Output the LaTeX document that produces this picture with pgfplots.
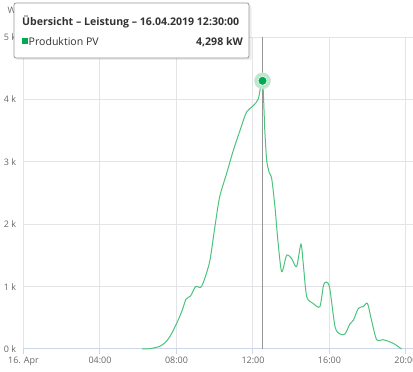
\documentclass[border=0pt]{standalone}
\usepackage{pgfplots}
\pgfplotsset{compat=1.18}
\usepackage{fontspec}
\setmainfont{Open Sans}
\definecolor{linegreen}{RGB}{75,195,125}
\definecolor{dotgreen}{RGB}{0,170,80}
\definecolor{halogreen}{RGB}{190,232,205}
\definecolor{gridgray}{RGB}{228,228,232}
\definecolor{axisblue}{RGB}{204,214,235}
\definecolor{labelgray}{RGB}{102,102,102}
\definecolor{cursorgray}{RGB}{150,150,150}
\begin{document}
\begin{tikzpicture}[x=1bp,y=1bp]
\useasboundingbox (0,0) rectangle (413,372);
\begin{axis}[
  at={(23.5bp,23bp)}, anchor=south west,
  scale only axis, width=389.5bp, height=312bp,
  xmin=0, xmax=20.37, ymin=0, ymax=5000,
  separate axis lines,
  axis x line*=bottom, axis y line*=left,
  x axis line style={draw=axisblue, line width=1bp},
  y axis line style={draw=none},
  xtick={0,4,8,12,16,20},
  xticklabels={16. Apr,04:00,08:00,12:00,16:00,20:00},
  ytick={0,1000,2000,3000,4000,5000},
  yticklabels={0 k,1 k,2 k,3 k,4 k,5 k},
  scaled y ticks=false,
  tick align=outside,
  x tick style={draw=axisblue, line width=1bp},
  major tick length=5bp,
  y tick style={draw=none},
  grid=major,
  major grid style={draw=gridgray, line width=1bp},
  tick label style={font=\fontsize{9}{10}\selectfont, text=labelgray},
  xticklabel style={yshift=1bp},
  yticklabel style={xshift=1bp},
  clip=false,
]
\draw[cursorgray, line width=1bp] (axis cs:12.5,0) -- (axis cs:12.5,5000);
\addplot[linegreen, line width=1bp, smooth, tension=0.45] coordinates {
(6.2,0) (6.6,5) (7.1,40) (7.4,100) (7.66,200) (8.01,410) (8.3,620) (8.5,800)
(8.74,850) (9.0,1000) (9.28,990) (9.5,1150) (9.75,1420) (10.01,1960)
(10.26,2440) (10.62,2810) (10.97,3180) (11.32,3500) (11.67,3800) (12.02,3900)
(12.28,4010) (12.5,4298) (12.62,3500) (12.72,3020) (12.85,2830) (12.98,2730)
(13.15,2280) (13.3,1750) (13.5,1240) (13.76,1500) (14.02,1450) (14.28,1320)
(14.51,1680) (14.63,1370) (14.81,840) (15.15,730) (15.5,680) (15.71,1040)
(15.99,1010) (16.29,360) (16.55,240) (16.81,240) (17.07,400) (17.25,460)
(17.51,650) (17.77,680) (17.99,730) (18.2,460) (18.47,150) (18.81,150)
(19.34,90) (19.77,0)
};
\addplot[draw=none, only marks, mark=*, mark size=8bp, mark options={fill=halogreen, draw=halogreen}] coordinates {(12.5,4298)};
\addplot[draw=none, only marks, mark=*, mark size=4.5bp, mark options={fill=dotgreen, draw=white, line width=0.6bp}] coordinates {(12.5,4298)};
\end{axis}
\node[anchor=base west, font=\fontsize{9}{10}\selectfont, text=labelgray] at (4,359) {W};
% tooltip
\fill[black, opacity=0.07, rounded corners=2bp] (16,312) rectangle (251.5,367);
\draw[fill=white, draw=cursorgray, line width=0.8bp, rounded corners=2bp] (14,314) rectangle (249,369);
\node[anchor=base west, inner sep=0pt, font=\bfseries\fontsize{10.6}{12}\selectfont, text=black!80] at (22,347) {Übersicht – Leistung – 16.04.2019 12:30:00};
\fill[dotgreen] (22,327.5) rectangle (28,333.5);
\node[anchor=base west, inner sep=0pt, font=\fontsize{10.6}{12}\selectfont, text=black!80] at (28.5,327) {Produktion PV};
\node[anchor=base east, inner sep=0pt, font=\bfseries\fontsize{10.6}{12}\selectfont, text=black!80] at (243,327) {4,298 kW};
\end{tikzpicture}
\end{document}
